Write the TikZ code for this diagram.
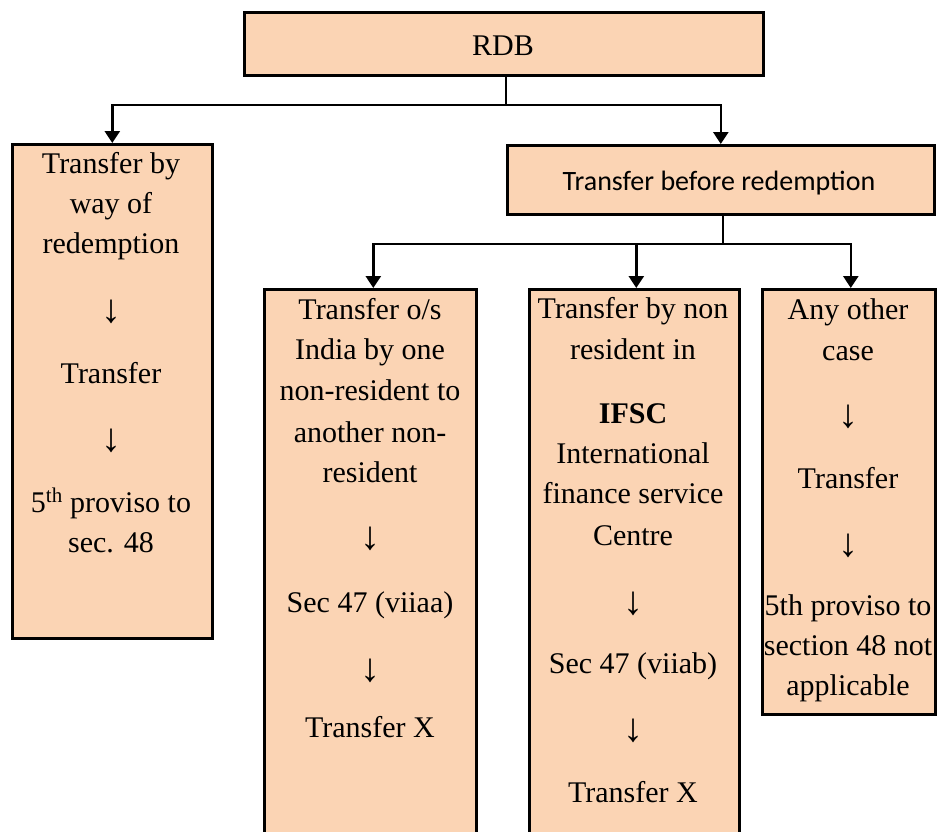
\documentclass[tikz,border=0pt]{standalone}
\usepackage{fontspec}
\setmainfont{Liberation Serif}
\newfontfamily\calibfont{Carlito}
\usetikzlibrary{arrows.meta}
\definecolor{peach}{HTML}{FBD4B4}
\newcommand{\dnarrow}{{\fontsize{40}{40}\selectfont ↓}}
\tikzset{
  boxnode/.style={draw=black, line width=2.6pt, fill=peach, inner sep=0pt, anchor=north west},
  txt/.style={anchor=base, inner sep=0pt, font=\fontsize{30}{36}\selectfont},
  conn/.style={draw=black, line width=2.6pt},
  arr/.style={conn, -{Triangle[width=15pt,length=12pt]}}
}
\begin{document}
\begin{tikzpicture}[x=1pt,y=-1pt]
\useasboundingbox (0,0) rectangle (937,831);
\clip (0,0) rectangle (937,831);
% boxes
\node[boxnode, minimum width=519pt, minimum height=63pt] (rdb) at (243,11) {};
\node[boxnode, minimum width=200pt, minimum height=494pt] (left) at (11,143) {};
\node[boxnode, minimum width=427pt, minimum height=69pt] (tbr) at (506,144) {};
\node[boxnode, minimum width=212pt, minimum height=600pt] (b1) at (263,288) {};
\node[boxnode, minimum width=210pt, minimum height=600pt] (b2) at (528,288) {};
\node[boxnode, minimum width=173pt, minimum height=425pt] (b3) at (761,288) {};
% texts
\node[txt] (trdb) at (503,55) {RDB};
\node[txt, font=\calibfont\fontsize{28}{34}\selectfont] (ttbr) at (719,190) {Transfer before redemption};
\foreach \t/\yy [count=\i] in {{Transfer by}/173,{way of}/213,{redemption}/253,{\dnarrow}/322,{Transfer}/383,{\dnarrow}/451,{5\textsuperscript{th} proviso to}/512,{sec. 48}/552}
  \node[txt] (la\i) at (111,\yy) {\t};
\foreach \t/\yy [count=\i] in {{Transfer o/s}/319,{India by one}/359,{non-resident to}/400,{another non-}/442,{resident}/482,{\dnarrow}/549,{Sec 47 (viiaa)}/612,{\dnarrow}/681,{Transfer X}/737}
  \node[txt] (lb\i) at (370,\yy) {\t};
\foreach \t/\yy [count=\i] in {{Transfer by non}/318,{resident in}/359,{\textbf{IFSC}}/423,{International}/463,{finance service}/503,{Centre}/545,{\dnarrow}/614,{Sec 47 (viiab)}/673,{\dnarrow}/741,{Transfer X}/802}
  \node[txt] (lc\i) at (633,\yy) {\t};
\foreach \t/\yy [count=\i] in {{Any other}/319,{case}/360,{\dnarrow}/427,{Transfer}/488,{\dnarrow}/556,{5th proviso to}/615,{section 48 not}/655,{applicable}/695}
  \node[txt] (ld\i) at (848,\yy) {\t};
% connectors
\coordinate (j1) at (506,105);
\coordinate (j2) at (723,244);
\draw[conn] (rdb.south -| j1) -- (j1);
\draw[arr] (j1) -| (left.north);
\draw[arr] (j1) -| (tbr.north);
\draw[conn] (tbr.south -| j2) -- (j2);
\draw[arr] (j2) -| ([xshift=3pt]b1.north);
\draw[arr] (j2) -| ([xshift=2pt]b2.north);
\draw[arr] (j2) -| ([xshift=2pt]b3.north);
\end{tikzpicture}
\end{document}
